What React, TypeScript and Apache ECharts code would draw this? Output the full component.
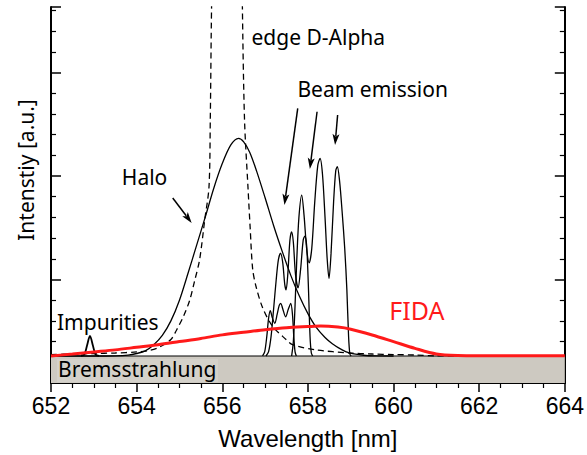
import React, { useEffect, useRef } from "react";
import * as echarts from "echarts";

// ---- data (wavelength nm, intensity a.u.) ----
const xTickValues = [652, 654, 656, 658, 660, 662, 664];

const bremsstrahlung: number[][] = [
  [652, 0.261],
  [664, 0.261],
];

const impurities: number[][] = [
  [652.7, 0.261], [652.78, 0.275], [652.84, 0.36], [652.91, 0.454],
  [652.98, 0.36], [653.04, 0.275], [653.12, 0.261],
];

const halo: number[][] = [
  [652.0, 0.261], [653.0, 0.261], [653.5, 0.263], [653.8, 0.27], [654.0, 0.285],
  [654.2, 0.31], [654.4, 0.37], [654.6, 0.46], [654.8, 0.6], [655.0, 0.8],
  [655.2, 1.06], [655.4, 1.33], [655.6, 1.6], [655.8, 1.88], [656.0, 2.12],
  [656.2, 2.3], [656.38, 2.364], [656.5, 2.33], [656.64, 2.23], [656.8, 2.05],
  [657.0, 1.79], [657.2, 1.52], [657.41, 1.26], [657.6, 1.04], [657.8, 0.84],
  [658.0, 0.67], [658.19, 0.54], [658.4, 0.44], [658.57, 0.38], [658.8, 0.32],
  [658.97, 0.29], [659.3, 0.268], [659.6, 0.262], [660.0, 0.261],
];

const dAlpha: number[][] = [
  [652.0, 0.275], [652.5, 0.28], [653.0, 0.285], [653.5, 0.29], [654.0, 0.3],
  [654.3, 0.315], [654.54, 0.348], [654.8, 0.42], [654.93, 0.51], [655.1, 0.65],
  [655.24, 0.8], [655.35, 0.98], [655.47, 1.19], [655.59, 1.575], [655.69, 1.894],
  [655.72, 2.54], [655.75, 3.63], [655.85, 6.0], [656.1, 9.0], [656.4, 6.0],
  [656.47, 3.63], [656.52, 2.54], [656.6, 1.894], [656.65, 1.51], [656.71, 1.1],
  [656.79, 0.93], [656.94, 0.73], [657.17, 0.55], [657.49, 0.42], [657.64, 0.37],
  [658.19, 0.32], [658.97, 0.29], [659.5, 0.28], [660.0, 0.275], [660.5, 0.27],
  [661.0, 0.262], [661.5, 0.261],
];

const beamThird: number[][] = [
  [656.94, 0.261], [656.99, 0.3], [657.04, 0.45], [657.08, 0.62], [657.12, 0.7],
  [657.17, 0.63], [657.226, 0.577], [657.28, 0.66], [657.33, 0.75], [657.366, 0.77],
  [657.41, 0.72], [657.48, 0.64], [657.54, 0.71], [657.6, 0.77], [657.64, 0.66],
  [657.67, 0.45], [657.7, 0.3], [657.73, 0.261],
];

const beamHalf: number[][] = [
  [657.02, 0.261], [657.08, 0.3], [657.14, 0.45], [657.2, 0.72], [657.26, 1.0],
  [657.31, 1.19], [657.36, 1.255], [657.41, 1.17], [657.46, 0.95], [657.49, 0.9],
  [657.53, 1.05], [657.58, 1.38], [657.62, 1.46], [657.66, 1.36], [657.71, 1.05],
  [657.77, 0.92], [657.83, 1.1], [657.89, 1.38], [657.93, 1.42], [657.97, 1.33],
  [658.01, 0.95], [658.05, 0.45], [658.08, 0.29], [658.11, 0.261],
];

const beamFull: number[][] = [
  [657.62, 0.261], [657.66, 0.4], [657.7, 0.75], [657.74, 1.19], [657.79, 1.6],
  [657.855, 1.816], [657.91, 1.62], [657.97, 1.3], [658.03, 1.16], [658.09, 1.3],
  [658.16, 1.75], [658.23, 2.1], [658.284, 2.171], [658.34, 2.02], [658.4, 1.6],
  [658.45, 1.2], [658.493, 1.01], [658.54, 1.25], [658.6, 1.75], [658.65, 2.05],
  [658.687, 2.09], [658.74, 1.95], [658.8, 1.65], [658.86, 1.3], [658.91, 0.9],
  [658.95, 0.45], [658.98, 0.28], [659.01, 0.261],
];

const fida: number[][] = [
  [652.0, 0.261], [652.5, 0.28], [653.0, 0.3], [653.5, 0.32], [654.0, 0.345],
  [654.5, 0.37], [655.0, 0.4], [655.5, 0.43], [656.0, 0.465], [656.5, 0.49],
  [657.0, 0.515], [657.5, 0.535], [658.0, 0.545], [658.3, 0.55], [658.7, 0.54],
  [659.0, 0.52], [659.5, 0.464], [660.0, 0.4], [660.5, 0.335], [661.0, 0.28],
  [661.5, 0.265], [662.0, 0.263], [663.0, 0.263], [664.0, 0.263],
];

// annotations in data coordinates
const labelTexts = ["edge D-Alpha", "Beam emission", "Halo", "Impurities", "FIDA", "Bremsstrahlung"];
const labelAnchors: number[][] = [
  [656.683, 3.343],
  [657.755, 2.841],
  [653.654, 1.995],
  [652.14, 0.589],
  [659.9, 0.71],
  [652.163, 0.135],
];
const arrowStarts: number[][] = [
  [654.843, 1.787],
  [657.762, 2.654],
  [658.214, 2.621],
  [658.694, 2.589],
];
const arrowEnds: number[][] = [
  [655.285, 1.546],
  [657.452, 1.72],
  [658.046, 2.068],
  [658.634, 2.3],
];

const GREY = "#cdc9c1";
const RED = "#ff1a1a";
const ARIAL = '"Liberation Sans", Arial, Helvetica, sans-serif';
const HUMANIST = '"Noto Sans", "Open Sans", sans-serif';

export default function App() {
  const ref = useRef<HTMLDivElement>(null);

  useEffect(() => {
    document.body.style.margin = "0";
    if (!ref.current) return;
    const chart = echarts.init(ref.current, undefined, { renderer: "svg" });

    const axisCommon = {
      type: "value" as const,
      axisLine: { show: true, lineStyle: { color: "#000", width: 2 } },
      splitLine: { show: false },
      minorSplitLine: { show: false },
    };

    const lineSeries = (data: number[][], extra: any = {}) => ({
      type: "line",
      data,
      showSymbol: false,
      symbol: "none",
      smooth: 0.3,
      clip: true,
      lineStyle: { color: "#000", width: 1.3 },
      z: 3,
      ...extra,
    });

    chart.setOption({
      animation: false,
      backgroundColor: "#fff",
      grid: { left: 51, right: 21, top: 7, bottom: 72, containLabel: false },
      xAxis: [
        {
          ...axisCommon,
          position: "bottom",
          min: 652,
          max: 664,
          interval: 2,
          axisTick: { show: true, inside: true, length: 9, lineStyle: { color: "#000", width: 1.5 } },
          minorTick: { show: true, splitNumber: 4, length: 5, lineStyle: { color: "#000", width: 1.2 } },
          axisLabel: {
            show: true,
            margin: 11,
            color: "#000",
            fontSize: 23,
            fontFamily: ARIAL,
            customValues: xTickValues,
          },
          name: "Wavelength [nm]",
          nameLocation: "middle",
          nameGap: 43,
          nameTextStyle: { color: "#000", fontSize: 24, fontFamily: ARIAL },
        },
        {
          ...axisCommon,
          position: "top",
          min: 652,
          max: 664,
          interval: 2,
          axisTick: { show: true, inside: true, length: 9, lineStyle: { color: "#000", width: 1.5 } },
          minorTick: { show: true, splitNumber: 4, length: 5, lineStyle: { color: "#000", width: 1.2 } },
          axisLabel: { show: false },
        },
      ],
      yAxis: [
        {
          ...axisCommon,
          position: "left",
          min: 0,
          max: 3.633,
          interval: 1,
          axisTick: { show: true, inside: true, length: 10, lineStyle: { color: "#000", width: 1.5 } },
          minorTick: { show: true, splitNumber: 5, length: 5, lineStyle: { color: "#000", width: 1.2 } },
          axisLabel: { show: false },
        },
        {
          ...axisCommon,
          position: "right",
          min: 0,
          max: 3.633,
          interval: 1,
          axisTick: { show: true, inside: true, length: 10, lineStyle: { color: "#000", width: 1.5 } },
          minorTick: { show: true, splitNumber: 5, length: 5, lineStyle: { color: "#000", width: 1.2 } },
          axisLabel: { show: false },
        },
      ],
      series: [
        {
          type: "line",
          name: "Bremsstrahlung",
          data: bremsstrahlung,
          showSymbol: false,
          symbol: "none",
          lineStyle: { color: "#000", width: 1.2 },
          areaStyle: { color: GREY, opacity: 1 },
          z: 2,
        },
        lineSeries(impurities, { name: "Impurities", lineStyle: { color: "#000", width: 1.8 } }),
        lineSeries(halo, { name: "Halo" }),
        lineSeries(dAlpha, { name: "edge D-Alpha", lineStyle: { color: "#000", width: 1.3, type: [6, 4] } }),
        lineSeries(beamThird, { name: "Beam third" }),
        lineSeries(beamHalf, { name: "Beam half" }),
        lineSeries(beamFull, { name: "Beam full" }),
        lineSeries(fida, { name: "FIDA", lineStyle: { color: RED, width: 3 }, z: 4 }),
      ],
    });

    // build annotations from data coordinates
    const px = (p: number[]) => chart.convertToPixel({ gridIndex: 0 }, p) as number[];
    const graphics: any[] = [];

    // light box behind Bremsstrahlung
    const bp = px(labelAnchors[5]);
    graphics.push({
      type: "rect",
      shape: { x: bp[0] - 1, y: bp[1] - 10, width: 161, height: 23 },
      style: { fill: "#d4d1ca" },
      z: 10,
    });

    labelTexts.forEach((t, i) => {
      const p = px(labelAnchors[i]);
      const isFida = t === "FIDA";
      graphics.push({
        type: "text",
        x: p[0],
        y: p[1],
        z: 11,
        style: {
          text: t,
          fill: isFida ? RED : "#000",
          fontSize: isFida ? 25 : 21,
          fontFamily: HUMANIST,
          align: "left",
          verticalAlign: "middle",
        },
      });
    });

    arrowStarts.forEach((s, i) => {
      const a = px(s);
      const b = px(arrowEnds[i]);
      const dx = b[0] - a[0];
      const dy = b[1] - a[1];
      const len = Math.sqrt(dx * dx + dy * dy);
      const ux = dx / len;
      const uy = dy / len;
      const headLen = 11;
      const headW = 3.5;
      const bx = b[0] - ux * headLen;
      const by = b[1] - uy * headLen;
      graphics.push({
        type: "line",
        shape: { x1: a[0], y1: a[1], x2: bx + ux * 2, y2: by + uy * 2 },
        style: { stroke: "#000", lineWidth: 1.5 },
        z: 11,
      });
      graphics.push({
        type: "polygon",
        shape: {
          points: [
            [b[0], b[1]],
            [bx - uy * headW, by + ux * headW],
            [bx + ux * 2.5, by + uy * 2.5],
            [bx + uy * headW, by - ux * headW],
          ],
        },
        style: { fill: "#000" },
        z: 11,
      });
    });

    graphics.push({
      type: "text",
      x: 26,
      y: 170,
      rotation: Math.PI / 2,
      z: 11,
      style: {
        text: "Intenstiy [a.u.]",
        fill: "#000",
        fontSize: 21,
        fontFamily: HUMANIST,
        align: "center",
        verticalAlign: "middle",
      },
    });

    chart.setOption({ graphic: graphics });

    return () => {
      chart.dispose();
    };
  }, []);

  return <div ref={ref} style={{ width: 587, height: 455 }} />;
}
